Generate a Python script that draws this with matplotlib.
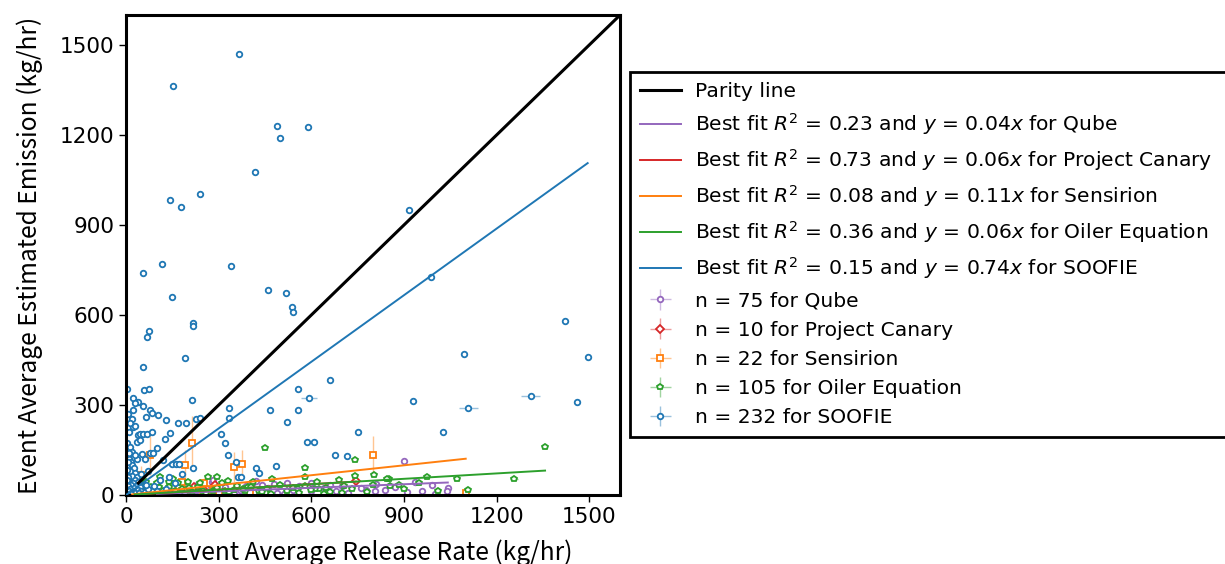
import matplotlib
matplotlib.use("Agg")
import matplotlib.pyplot as plt
import numpy as np

plt.rcParams["font.family"] = ["DejaVu Sans"]

# ---- data ----
soofie_x = [365, 151, 490, 590, 497, 419, 143, 240, 178, 916, 116, 341, 54, 148, 460, 519, 539, 540,
            73, 69, 218, 218, 987, 191, 54, 1422, 1096, 1495, 4, 57, 73, 557, 592, 660, 24, 40, 215,
            929, 1310, 1459, 29, 55, 22, 77, 83, 65, 105, 20, 129, 24, 168, 194, 334, 335, 227, 240,
            39, 45, 56, 67, 85, 142, 127, 36, 44, 99, 51, 78, 86, 121, 150, 161, 173, 180, 216, 309,
            320, 329, 356, 364, 373, 466, 521, 557, 486, 422, 430, 586, 610, 677, 715, 752, 1026, 1109,
            5, 10, 15, 8, 20, 25, 12, 30, 18, 6, 35, 28, 10, 40, 22, 15, 5, 32, 45, 25, 12, 38, 50, 8,
            20, 30, 42, 55, 15, 3, 60, 70, 65, 48, 35, 3, 12, 18, 28, 8, 14, 5, 30, 60, 90, 100, 110,
            130, 140, 160, 70, 2, 4, 6, 9]
soofie_y = [1470, 1362, 1230, 1227, 1189, 1076, 984, 1003, 961, 949, 769, 764, 739, 661, 682, 674, 628, 609,
            547, 527, 572, 565, 728, 456, 428, 580, 471, 461, 352, 351, 353, 352, 323, 383, 322, 311, 318,
            312, 329, 311, 306, 296, 283, 283, 272, 261, 267, 255, 250, 228, 239, 239, 291, 258, 252, 256,
            200, 202, 203, 204, 209, 208, 186, 178, 183, 156, 137, 141, 140, 117, 102, 103, 105, 70, 89, 203,
            173, 132, 111, 60, 60, 283, 244, 284, 98, 89, 72, 178, 178, 135, 130, 209, 209, 290,
            130, 120, 110, 95, 100, 90, 80, 75, 65, 60, 60, 50, 45, 45, 40, 35, 30, 30, 28, 22, 20, 18, 15, 12,
            10, 8, 6, 5, 5, 3, 10, 20, 35, 70, 120, 175, 160, 145, 135, 210, 240, 270, 230, 120, 30, 15, 50,
            20, 60, 40, 80, 50, 85, 110, 140]
soofie_xerr_big = {592: 25, 1310: 30, 1109: 30}

oiler_x = [450, 1357, 743, 578, 1256, 974, 1072, 850, 883, 1107, 804, 742, 845, 854, 732, 707, 648, 624,
           613, 599, 581, 474, 296, 267, 153, 138, 169, 180, 205, 233, 250, 294, 283, 320, 333, 348, 385,
           396, 406, 429, 456, 541, 557, 453, 45, 58, 80, 97, 106, 119, 63, 28, 40, 52, 66, 85, 100, 125,
           140, 160, 190, 215, 240, 260, 310, 360, 410, 440, 500, 520, 560, 620, 660, 690, 780, 900, 800,
           1010, 950, 30, 110, 200, 330, 380, 470, 580, 640, 700]
oiler_y = [156, 160, 117, 91, 54, 61, 54, 54, 34, 17, 68, 64, 54, 29, 19, 29, 24, 19,
           19, 17, 59, 54, 59, 59, 53, 43, 39, 19, 22, 28, 13, 22, 15, 15, 10, 17, 15,
           28, 28, 15, 20, 22, 20, 8, 39, 22, 26, 19, 26, 15, 44, 10, 18, 8, 30, 12, 40, 8,
           28, 15, 5, 10, 40, 8, 40, 30, 45, 10, 35, 12, 8, 45, 10, 50, 10, 20, 35,
           15, 40, 55, 60, 45, 48, 20, 5, 30, 5, 8]
oiler_xerr_big = {1256: 12}

qube_x = [900, 935, 1042, 1040, 911, 810, 777, 806, 410, 283, 270, 277, 283, 138, 520, 407,
          150, 180, 200, 230, 260, 300, 320, 350, 370, 390, 430, 460, 490, 540, 560, 600, 640, 680,
          700, 720, 760, 840, 870, 960, 990, 1000, 230, 190, 420, 480, 600, 660, 120, 100, 240, 330,
          510, 650, 440]
qube_y = [113, 44, 24, 12, 9, 36, 16, 13, 43, 19, 13, 44, 50, 21, 41, 41,
          5, 12, 8, 15, 22, 10, 28, 5, 18, 30, 12, 25, 8, 18, 30, 12, 22, 15,
          30, 8, 25, 18, 28, 15, 35, 5, 35, 28, 48, 38, 40, 35, 15, 8, 5, 15,
          5, 5, 35]

canary_x = [287, 744, 132, 60, 90, 200, 250, 175, 40, 220]
canary_y = [32, 46, 8, 10, 15, 12, 20, 5, 5, 28]

sensirion_x = [214, 78, 192, 348, 376, 800, 253, 49, 1100, 197, 130, 145, 250, 300, 60, 30, 100, 170,
               280, 400, 20, 180]
sensirion_y = [174, 132, 100, 94, 105, 133, 41, 67, 6, 17, 10, 5, 8, 5, 20, 12, 25, 30,
               15, 8, 5, 45]
sensirion_yerr = [90, 65, 50, 50, 45, 65, 15, 30, 5, 10, 5, 5, 5, 5, 10, 5, 10, 10,
                  5, 5, 3, 15]

fits = {  # name: (R^2, slope)
    "Qube": (0.23, 0.04),
    "Project Canary": (0.73, 0.06),
    "Sensirion": (0.08, 0.11),
    "Oiler Equation": (0.36, 0.06),
    "SOOFIE": (0.15, 0.74),
}
counts = {"Qube": 75, "Project Canary": 10, "Sensirion": 22, "Oiler Equation": 105, "SOOFIE": 232}
parity_range = [40, 1600]

colors = {
    "Qube": "#9467bd",
    "Project Canary": "#d62728",
    "Sensirion": "#ff7f0e",
    "Oiler Equation": "#2ca02c",
    "SOOFIE": "#1f77b4",
}
markers = {"Qube": "o", "Project Canary": "D", "Sensirion": "s", "Oiler Equation": "p", "SOOFIE": "o"}


def errs(xs, big=None):
    # tiny errors everywhere, a few visible ones
    big = big or {}
    return [big.get(x, 0) for x in xs]


series = {
    "Qube": (qube_x, qube_y, errs(qube_x), errs(qube_x)),
    "Project Canary": (canary_x, canary_y, errs(canary_x), errs(canary_x)),
    "Sensirion": (sensirion_x, sensirion_y, errs(sensirion_x), sensirion_yerr),
    "Oiler Equation": (oiler_x, oiler_y, errs(oiler_x, oiler_xerr_big), errs(oiler_x)),
    "SOOFIE": (soofie_x, soofie_y, errs(soofie_x, soofie_xerr_big), errs(soofie_x)),
}

# ---- plot ----
fig = plt.figure(figsize=(12.25, 5.64), dpi=100)
ax = fig.add_axes([0.1029, 0.1223, 0.4033, 0.8511])

ax.plot(parity_range, parity_range, color="black", lw=2.2, label="Parity line", zorder=4)

for name, (r2, slope) in fits.items():
    xs = np.array(series[name][0])
    xl = np.array([xs.min(), xs.max()])
    ax.plot(xl, slope * xl, color=colors[name], lw=1.4, zorder=3,
            label=rf"Best fit $R^2$ = {r2:.2f} and $y$ = {slope:.2f}$x$ for {name}")

for name in ["Qube", "Project Canary", "Sensirion", "Oiler Equation", "SOOFIE"]:
    x, y, xe, ye = series[name]
    eb = ax.errorbar(x, y, xerr=xe, yerr=ye, fmt=markers[name], mfc="white", mec=colors[name],
                     color=colors[name], ms=4, mew=1.3, elinewidth=1.0, capsize=0,
                     label=f"n = {counts[name]} for {name}", zorder=2)
    for c in eb[2]:
        c.set_alpha(0.45)

ax.set_xlim(0, 1600)
ax.set_ylim(0, 1600)
ax.set_xticks([0, 300, 600, 900, 1200, 1500])
ax.set_yticks([0, 300, 600, 900, 1200, 1500])
ax.tick_params(labelsize=15.5, length=5, width=1)
for s in ax.spines.values():
    s.set_linewidth(2.2)

lab_font = dict(family=["Noto Sans CJK SC", "DejaVu Sans"], size=17.7)
ax.set_xlabel("Event Average Release Rate (kg/hr)", fontdict=lab_font, labelpad=9)
ax.set_ylabel("Event Average Estimated Emission (kg/hr)", fontdict=lab_font, labelpad=12)

# legend box runs off the right edge of the figure, as in the original
leg = ax.legend(loc="upper left", bbox_to_anchor=(1.02, 0.881, 1.3, 0), mode="expand",
                fontsize=14.6, fancybox=False, framealpha=1, edgecolor="black",
                labelspacing=0.5, borderpad=0.5, borderaxespad=0, handlelength=2.0,
                handletextpad=0.7)
leg.get_frame().set_linewidth(2)

fig.savefig("out.png", dpi=100)
